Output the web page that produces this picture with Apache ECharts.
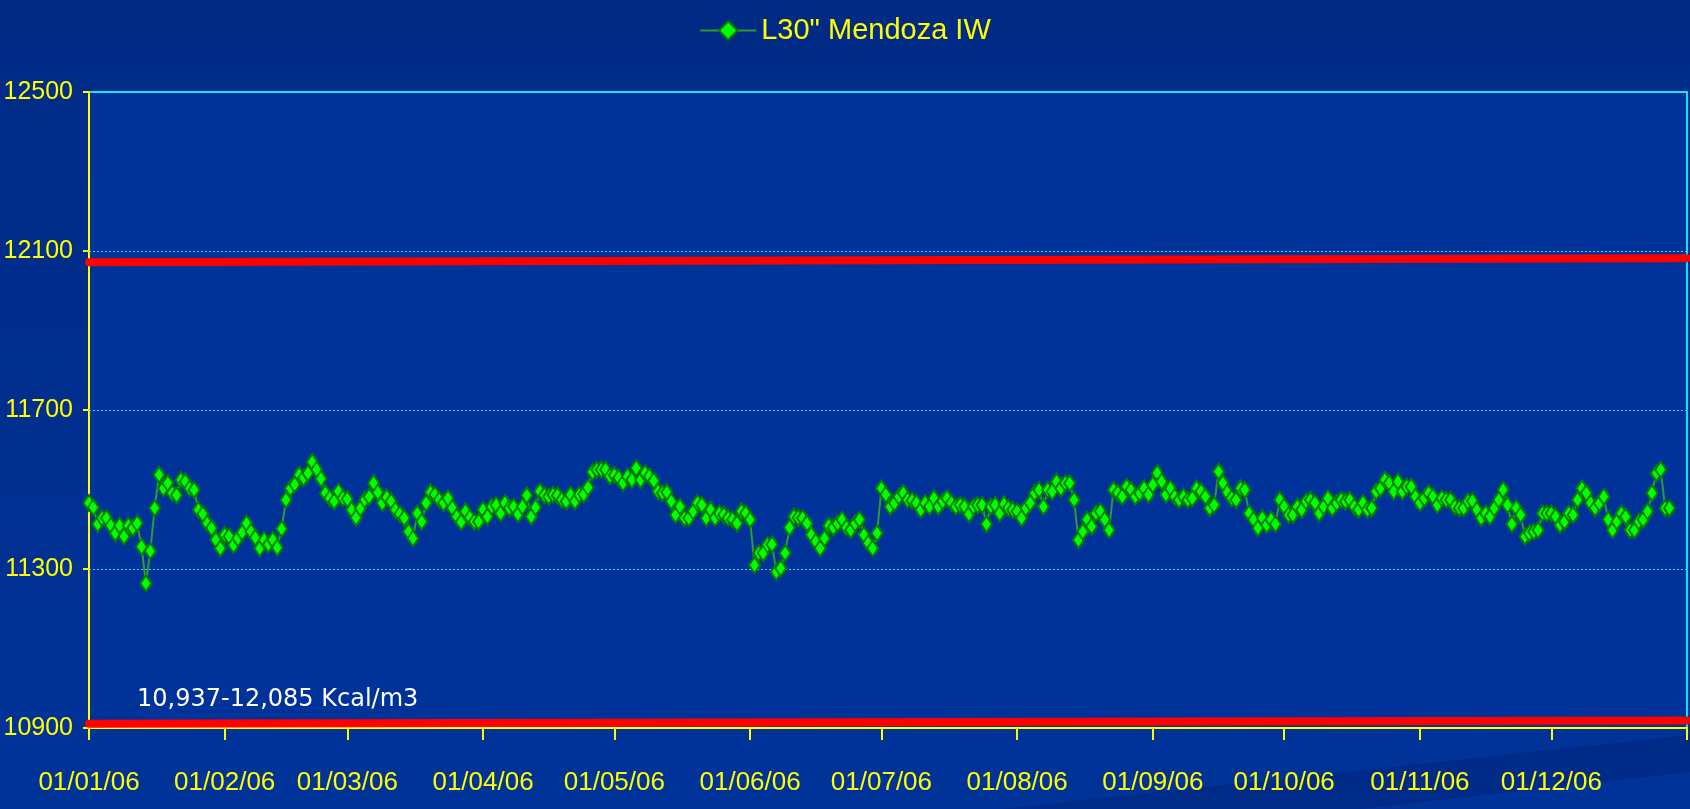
<!DOCTYPE html>
<html>
<head>
<meta charset="utf-8">
<title>L30" Mendoza IW</title>
<script src="https://cdn.jsdelivr.net/npm/echarts@6/dist/echarts.min.js"></script>
<style>
  html, body { margin: 0; padding: 0; background: #003399; }
  .charts { width: 1690px; height: 809px; }
</style>
</head>
<body>
<div id="chart" class="charts"></div>
<script>
const seriesName = 'L30" Mendoza IW'
const noteText = '10,937-12,085 Kcal/m3'
const yTicks = [10900, 11300, 11700, 12100, 12500]
const monthLabels = ['01/01/06', '01/02/06', '01/03/06', '01/04/06', '01/05/06', '01/06/06',
  '01/07/06', '01/08/06', '01/09/06', '01/10/06', '01/11/06', '01/12/06']

// daily values, one array per month
const jan = [11466, 11455, 11413, 11428, 11428, 11409, 11390, 11409, 11382, 11409, 11403, 11415, 11356, 11264, 11345, 11453,
  11537, 11503, 11516, 11491, 11486, 11524, 11520, 11503, 11499, 11449, 11438, 11415, 11403, 11373, 11352]
const feb = [11386, 11382, 11360, 11377, 11392, 11415, 11394, 11379, 11352, 11373, 11362, 11373, 11354, 11401,
  11474, 11503, 11513, 11537, 11529, 11541, 11569, 11550, 11527, 11491, 11478, 11470, 11495, 11478]
const mar = [11476, 11449, 11429, 11453, 11474, 11482, 11516, 11493, 11466, 11480, 11470, 11449, 11438, 11428, 11394, 11377,
  11440, 11419, 11466, 11493, 11487, 11474, 11466, 11478, 11453, 11432, 11418, 11445, 11429, 11419, 11419]
const apr = [11449, 11432, 11457, 11461, 11440, 11466, 11453, 11457, 11438, 11457, 11485, 11432, 11455, 11495, 11485,
  11482, 11487, 11485, 11474, 11470, 11487, 11470, 11487, 11488, 11505, 11544, 11550, 11550, 11550, 11533]
const may = [11536, 11529, 11516, 11533, 11524, 11554, 11524, 11541, 11533, 11522, 11495, 11491, 11493, 11470, 11436, 11457,
  11428, 11428, 11445, 11466, 11461, 11428, 11449, 11428, 11440, 11436, 11428, 11424, 11415, 11445, 11440]
const jun = [11424, 11310, 11340, 11340, 11361, 11362, 11293, 11302, 11340, 11404, 11432, 11429, 11428, 11415, 11386,
  11369, 11352, 11377, 11409, 11404, 11415, 11424, 11404, 11398, 11415, 11424, 11386, 11365, 11352, 11390]
const jul = [11503, 11487, 11457, 11466, 11482, 11491, 11474, 11472, 11466, 11449, 11466, 11457, 11478, 11457, 11470, 11478,
  11466, 11457, 11461, 11457, 11438, 11457, 11461, 11461, 11413, 11457, 11461, 11440, 11463, 11453, 11449]
const aug = [11445, 11428, 11453, 11466, 11491, 11499, 11457, 11499, 11495, 11520, 11503, 11516, 11516, 11474, 11373, 11394,
  11424, 11407, 11440, 11445, 11424, 11398, 11499, 11491, 11482, 11507, 11499, 11482, 11491, 11503, 11487]
const sep = [11512, 11541, 11520, 11487, 11503, 11482, 11474, 11482, 11474, 11478, 11503, 11495, 11482, 11453, 11461,
  11545, 11516, 11493, 11478, 11474, 11503, 11499, 11440, 11424, 11403, 11428, 11411, 11424, 11413, 11474]
const oct = [11457, 11436, 11436, 11457, 11449, 11470, 11474, 11466, 11440, 11457, 11478, 11453, 11466, 11474, 11470, 11474,
  11457, 11449, 11466, 11449, 11453, 11495, 11503, 11524, 11516, 11495, 11520, 11495, 11507, 11507, 11482]
const nov = [11466, 11478, 11491, 11482, 11461, 11478, 11474, 11474, 11457, 11453, 11453, 11470, 11471, 11449, 11428,
  11440, 11432, 11453, 11474, 11499, 11461, 11413, 11453, 11436, 11382, 11390, 11394, 11398, 11440, 11440]
const dec = [11440, 11432, 11411, 11419, 11440, 11436, 11474, 11503, 11491, 11466, 11453, 11466, 11482, 11424,
  11398, 11419, 11440, 11432, 11398, 11398, 11419, 11424, 11445, 11491, 11541, 11550, 11453, 11453]

// red limit lines, value at first and last day
const upperLimit = [12072, 12082]
const lowerLimit = [10911, 10919]

const values = [].concat(jan, feb, mar, apr, may, jun, jul, aug, sep, oct, nov, dec)

// one category per day, 01/01/06 .. 01/01/07
const days = []
for (let i = 0; i <= 365; i++) {
  const d = new Date(Date.UTC(2006, 0, 1 + i))
  const dd = String(d.getUTCDate()).padStart(2, '0')
  const mm = String(d.getUTCMonth() + 1).padStart(2, '0')
  const yy = String(d.getUTCFullYear()).slice(2)
  days.push(dd + '/' + mm + '/' + yy)
}
const last = days.length - 1

const labelFont = '"Liberation Sans", Arial, sans-serif'

const option = {
  animation: false,
  backgroundColor: {
    type: 'linear', x: 0, y: 0, x2: 0, y2: 1,
    colorStops: [{ offset: 0, color: '#002a84' }, { offset: 1, color: '#003399' }]
  },
  graphic: [{
    type: 'polygon',
    z: -10,
    shape: { points: [[1000, 809], [1690, 735], [1690, 772], [1360, 809]] },
    style: { fill: 'rgba(0, 30, 110, 0.35)' }
  }, {
    type: 'text',
    style: {
      x: 137,
      y: 700,
      text: noteText,
      fill: '#ffffff',
      font: '24px "DejaVu Sans", Verdana, sans-serif',
      verticalAlign: 'middle'
    }
  }],
  legend: {
    data: [seriesName],
    top: 11,
    left: 'center',
    itemWidth: 56,
    itemHeight: 23,
    textStyle: {
      color: '#ffff00',
      fontSize: 29,
      fontFamily: labelFont
    }
  },
  grid: {
    left: 89,
    right: 3,
    top: 92,
    bottom: 81,
    outerBoundsMode: 'none',
    containLabel: false,
    show: true,
    backgroundColor: '#003399',
    borderColor: '#00e8ff',
    borderWidth: 2
  },
  xAxis: {
    type: 'category',
    data: days,
    boundaryGap: false,
    axisLine: { lineStyle: { color: '#ffff00', width: 2 } },
    axisTick: {
      length: 12,
      lineStyle: { color: '#ffff00', width: 2 },
      interval: function (index, value) {
        return value.slice(0, 3) === '01/'
      }
    },
    axisLabel: {
      color: '#ffff00',
      fontSize: 26,
      fontFamily: labelFont,
      margin: 42,
      interval: function (index, value) {
        return monthLabels.indexOf(value) >= 0
      }
    },
    splitLine: { show: false }
  },
  yAxis: {
    type: 'value',
    min: yTicks[0],
    max: yTicks[yTicks.length - 1],
    interval: yTicks[1] - yTicks[0],
    axisLine: { show: true, lineStyle: { color: '#ffff00', width: 2 } },
    axisTick: { show: true, length: 6, lineStyle: { color: '#ffff00', width: 2 } },
    axisLabel: {
      color: '#ffff00',
      fontSize: 25,
      fontFamily: labelFont,
      margin: 16,
      formatter: function (v) {
        return String(v)
      }
    },
    splitLine: {
      lineStyle: { color: '#40d8ff', width: 1, type: [2, 2] }
    }
  },
  series: [{
    name: seriesName,
    type: 'line',
    data: values,
    showAllSymbol: true,
    symbol: 'diamond',
    symbolSize: [11, 16],
    itemStyle: {
      color: '#00ff00',
      borderColor: '#007f00',
      borderWidth: 2
    },
    lineStyle: { color: '#339933', width: 2 },
    z: 5
  }, {
    name: 'upper',
    type: 'line',
    data: [[0, upperLimit[0]], [last, upperLimit[1]]],
    symbol: 'none',
    clip: false,
    silent: true,
    lineStyle: { color: '#ff0000', width: 8, cap: 'round' },
    z: 4
  }, {
    name: 'lower',
    type: 'line',
    data: [[0, lowerLimit[0]], [last, lowerLimit[1]]],
    symbol: 'none',
    clip: false,
    silent: true,
    lineStyle: { color: '#ff0000', width: 8, cap: 'round' },
    z: 4
  }]
}

const chart = echarts.init(document.getElementById('chart'))
chart.setOption(option)
window.addEventListener('resize', function () {
  chart.resize()
})
</script>
</body>
</html>
